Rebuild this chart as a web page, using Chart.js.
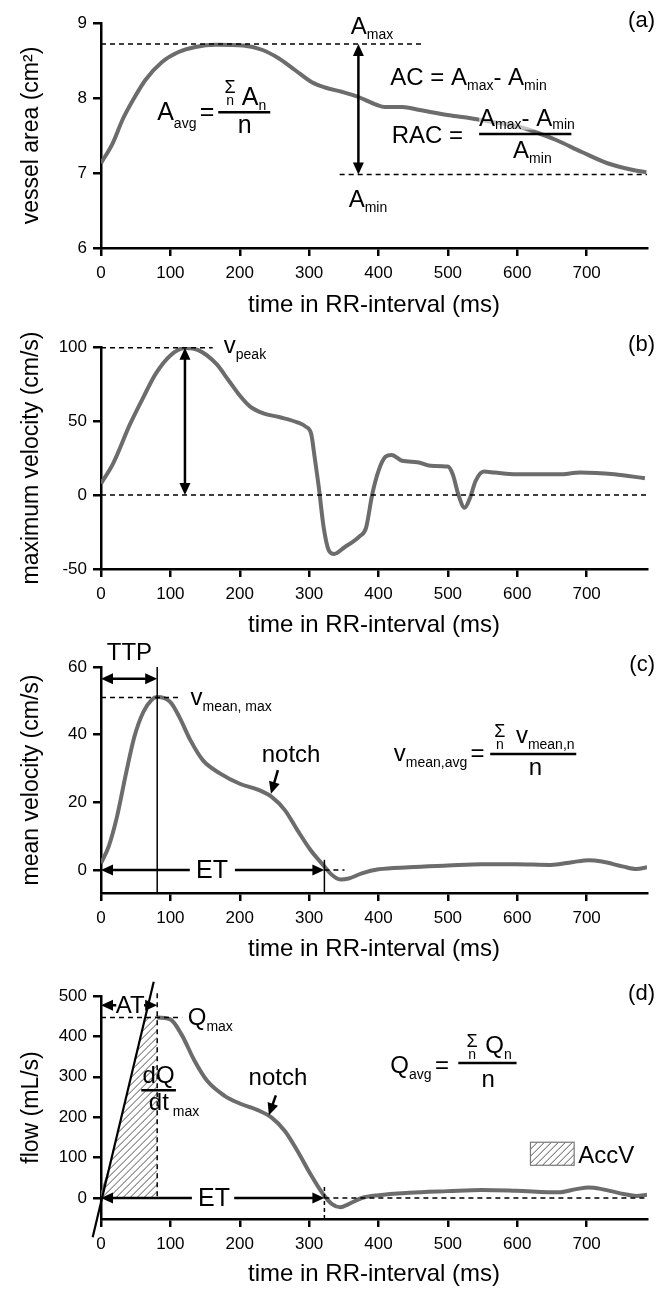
<!DOCTYPE html>
<html>
<head>
<meta charset="utf-8">
<script src="https://cdn.jsdelivr.net/npm/chart.js@4.4.1/dist/chart.umd.min.js"></script>
<style>
html,body{margin:0;padding:0;background:#fff;}
#wrap{position:relative;width:670px;height:1293px;}
canvas{position:absolute;left:0;}
</style>
</head>
<body>
<div id="wrap">
  <canvas id="cA" width="670" height="320" style="top:0px"></canvas>
  <canvas id="cB" width="670" height="330" style="top:315px"></canvas>
  <canvas id="cC" width="670" height="345" style="top:630px"></canvas>
  <canvas id="cD" width="670" height="333" style="top:960px"></canvas>
</div>
<script>
// data (time in ms)
var xTicks = [0,100,200,300,400,500,600,700];

var timeA = [0,17,31,46,64,88,111,136,165,205,233,256,280,304,323,348,372,397,409,434,459,502,533,564,601,631,656,693,730,767,786];
var areaA = [7.13,7.40,7.71,7.97,8.24,8.48,8.61,8.68,8.71,8.70,8.64,8.53,8.37,8.21,8.14,8.08,8.01,7.91,7.88,7.88,7.84,7.77,7.73,7.68,7.62,7.53,7.44,7.28,7.13,7.04,7.01];
var ticksA = [6,7,8,9];

var timeB = [0,17,42,61,79,100,121,141,166,184,200,215,234,258,283,295,303,308,314,321,329,336,351,373,382,391,400,410,419,434,456,475,500,507,515,524,532,540,552,567,598,660,691,740,784];
var velB = [7.7,20.8,48,66,82,94.3,99.3,97.7,88.7,77.4,67.2,59.7,55.2,52.5,49.1,46.2,41.2,25.3,5,-22,-38,-39.8,-35.3,-27.8,-22.2,0.5,16.3,25.8,27.1,23.1,22.2,19.7,19.2,14,0.5,-8.6,-1.8,9.5,15.8,15.2,14,14,15.2,14,11.3];
var ticksB = [-50,0,50,100];

var timeC = [0,11,23,36,48,61,73,81,100,113,129,147,172,200,228,246,265,283,302,320,333,345,357,376,400,444,500,549,598,648,679,703,722,753,772,787];
var velC = [2,6.9,15.7,28.5,39.3,46.7,50.3,51.1,49.6,45.2,38.3,32.4,28.5,25.5,23.6,21.6,17.7,11.8,5.9,1.5,-1.5,-2.8,-2.5,-1,0.2,0.8,1.3,1.7,1.7,1.5,2.3,2.9,2.5,1,0.3,0.8];
var ticksC = [0,20,40,60];

var timeD = [0,17,36,54,70,81,100,116,135,153,178,200,228,246,265,283,302,320,333,345,357,376,400,444,500,549,598,660,685,703,722,753,772,787];
var flowD = [0,92,216,331,413,447,442,405,339,290,253,234,216,199,166,117,59,10,-15,-23,-15,0,7,13,17,20,18,14,22,26,22,10,5,8];
var ticksD = [0,100,200,300,400,500];

var FONT = '"Liberation Sans", Arial, Helvetica, sans-serif';
var xTitle = 'time in RR-interval (ms)';

// ---- drawing helpers ----
function rich(ctx, x, y, parts, align){
  var w = 0;
  parts.forEach(function(p){ ctx.font = p[1] + 'px ' + FONT; w += ctx.measureText(p[0]).width; });
  var sx = align === 'center' ? x - w/2 : (align === 'right' ? x - w : x);
  ctx.textAlign = 'left'; ctx.textBaseline = 'alphabetic'; ctx.fillStyle = '#000';
  parts.forEach(function(p){
    ctx.font = p[1] + 'px ' + FONT;
    ctx.fillText(p[0], sx, y + (p[2] || 0));
    sx += ctx.measureText(p[0]).width;
  });
}
function mid(ctx, x, y, t, size){
  ctx.font = size + 'px ' + FONT; ctx.fillStyle = '#000';
  ctx.textAlign = 'center'; ctx.textBaseline = 'middle';
  ctx.fillText(t, x, y);
}
function seg(ctx, x1, y1, x2, y2, lw, dash){
  ctx.save();
  ctx.strokeStyle = '#000'; ctx.lineWidth = lw; ctx.setLineDash(dash || []);
  ctx.beginPath(); ctx.moveTo(x1, y1); ctx.lineTo(x2, y2); ctx.stroke();
  ctx.restore();
}
function head(ctx, x1, y1, x2, y2){
  var a = Math.atan2(y2 - y1, x2 - x1), L = 12, W = 5.5;
  ctx.fillStyle = '#000';
  ctx.beginPath(); ctx.moveTo(x2, y2);
  ctx.lineTo(x2 - L*Math.cos(a) + W*Math.sin(a), y2 - L*Math.sin(a) - W*Math.cos(a));
  ctx.lineTo(x2 - L*Math.cos(a) - W*Math.sin(a), y2 - L*Math.sin(a) + W*Math.cos(a));
  ctx.closePath(); ctx.fill();
}
function arrow(ctx, x1, y1, x2, y2, both, lw){
  var a = Math.atan2(y2 - y1, x2 - x1), s = 6;
  var sx = both ? x1 + s*Math.cos(a) : x1, sy = both ? y1 + s*Math.sin(a) : y1;
  seg(ctx, sx, sy, x2 - s*Math.cos(a), y2 - s*Math.sin(a), lw || 2.5);
  head(ctx, x1, y1, x2, y2);
  if (both) head(ctx, x2, y2, x1, y1);
}
function bar(ctx, x1, x2, y){ seg(ctx, x1, y, x2, y, 2.5); }
function hatch(ctx, pts, x0, x1, y0, y1){
  ctx.save();
  ctx.beginPath(); ctx.moveTo(pts[0][0], pts[0][1]);
  for (var i = 1; i < pts.length; i++) ctx.lineTo(pts[i][0], pts[i][1]);
  ctx.closePath();
  ctx.fillStyle = '#fff'; ctx.fill();
  ctx.clip();
  ctx.strokeStyle = '#555'; ctx.lineWidth = 1;
  ctx.beginPath();
  for (var k = x0 - (y1 - y0); k < x1 + (y1 - y0); k += 7){
    ctx.moveTo(k, y1); ctx.lineTo(k + (y1 - y0), y0);
  }
  ctx.stroke();
  ctx.restore();
}
function etArrow(ctx, X, Y, tx, gap0, gap1){
  arrow(ctx, X(0), Y(0), X(322), Y(0), true, 2.5);
  ctx.fillStyle = '#fff';
  ctx.fillRect(X(gap0), Y(0) - 4, X(gap1) - X(gap0), 8);
  mid(ctx, X(tx), Y(0) + 1, 'ET', 25);
}

// ---- chart factory ----
function makeChart(id, times, vals, yMin, yMax, yTicks, yTitle, padTop, axisH, titleRel, label, draw){
  var canvas = document.getElementById(id);
  var canvasH = canvas.height;
  return new Chart(canvas.getContext('2d'), {
    type: 'line',
    data: { datasets: [{
      data: times.map(function(t, i){ return {x: t, y: vals[i]}; }),
      borderColor: '#6c6c6c', borderWidth: 4, pointRadius: 0,
      cubicInterpolationMode: 'monotone', fill: false
    }]},
    options: {
      responsive: false, animation: false,
      layout: { padding: { top: padTop, right: 23, left: 0, bottom: 0 } },
      plugins: { legend: { display: false }, tooltip: { enabled: false } },
      scales: {
        x: {
          type: 'linear', min: 0, max: 787,
          afterBuildTicks: function(s){ s.ticks = xTicks.map(function(v){ return {value: v}; }); },
          afterFit: function(s){ s.height = axisH; },
          grid: { drawOnChartArea: false, drawTicks: true, tickLength: 8, lineWidth: 2.5, color: '#000', tickColor: '#000' },
          border: { color: '#000', width: 2.5 },
          ticks: { color: '#000', font: { family: FONT, size: 17 }, padding: 7, maxRotation: 0 },
          title: { display: true, text: xTitle, color: '#000', font: { family: FONT, size: 24 },
                   padding: { top: 0, bottom: Math.max(0, canvasH - titleRel - 14.4) } }
        },
        y: {
          min: yMin, max: yMax,
          afterBuildTicks: function(s){ s.ticks = yTicks.map(function(v){ return {value: v}; }); },
          afterFit: function(s){ s.width = 101; },
          grid: { drawOnChartArea: false, drawTicks: true, tickLength: 8, lineWidth: 2.5, color: '#000', tickColor: '#000' },
          border: { color: '#000', width: 2.5 },
          ticks: { color: '#000', font: { family: FONT, size: 17 }, padding: 6 },
          title: { display: true, text: yTitle, color: '#000', font: { family: FONT, size: 23 },
                   padding: { top: 18, bottom: 0 } }
        }
      }
    },
    plugins: [{
      id: 'notes' + id,
      afterDatasetsDraw: function(chart){
        var ctx = chart.ctx, xs = chart.scales.x, ys = chart.scales.y;
        var X = function(v){ return xs.getPixelForValue(v); };
        var Y = function(v){ return ys.getPixelForValue(v); };
        ctx.save();
        draw(ctx, X, Y, chart);
        ctx.font = '22px ' + FONT; ctx.fillStyle = '#000';
        ctx.textAlign = 'right'; ctx.textBaseline = 'middle';
        ctx.fillText(label, chart.chartArea.right + 8, chart.chartArea.top - 2);
        ctx.restore();
      }
    }]
  });
}

// (a) vessel area
makeChart('cA', timeA, areaA, 6, 9, ticksA, 'vessel area (cm\u00b2)', 23, 72, 305, '(a)', function(ctx, X, Y){
  seg(ctx, X(0), Y(8.72), X(467), Y(8.72), 1.5, [5, 4]);
  seg(ctx, X(344), Y(6.98), X(787), Y(6.98), 1.5, [5, 4]);
  arrow(ctx, X(371), Y(8.72), X(371), Y(6.98), true, 2.5);
  rich(ctx, X(360), Y(8.85), [['A', 24], ['max', 14, 5]]);
  rich(ctx, X(357), Y(6.55), [['A', 24], ['min', 14, 5]]);
  rich(ctx, X(417), Y(8.17), [['AC = A', 24], ['max', 14, 5], ['- A', 24], ['min', 14, 5]]);
  rich(ctx, X(419), Y(7.40), [['RAC = ', 24]]);
  ctx.fillStyle = 'rgba(255,255,255,0.6)';
  ctx.fillRect(X(545), Y(7.63) - 18, X(678) - X(545), 22);
  rich(ctx, X(545), Y(7.63), [['A', 24], ['max', 14, 3], ['- A', 24], ['min', 14, 3]]);
  bar(ctx, X(545), X(678), Y(7.52));
  rich(ctx, X(594), Y(7.20), [['A', 24], ['min', 14, 5]]);
  rich(ctx, X(81), Y(7.71), [['A', 25], ['avg', 14, 8], [' ', 12], ['=', 25]]);
  bar(ctx, X(169), X(244), Y(7.81));
  mid(ctx, X(186), Y(8.13), '\u03a3', 18);
  mid(ctx, X(186), Y(7.96), 'n', 14);
  rich(ctx, X(203), Y(7.91), [['A', 25], ['n', 14, 5]]);
  rich(ctx, X(207), Y(7.53), [['n', 25]], 'center');
});

// (b) maximum velocity
makeChart('cB', timeB, velB, -50, 100, ticksB, 'maximum velocity (cm/s)', 32, 76, 310, '(b)', function(ctx, X, Y){
  seg(ctx, X(0), Y(99.5), X(161), Y(99.5), 1.5, [5, 4]);
  seg(ctx, X(0), Y(0), X(787), Y(0), 1.5, [5, 4]);
  arrow(ctx, X(121), Y(99.5), X(121), Y(0), true, 2.5);
  rich(ctx, X(177), Y(96), [['v', 24], ['peak', 14, 6]]);
});

// (c) mean velocity
makeChart('cC', timeC, velC, -6.8, 60, ticksC, 'mean velocity (cm/s)', 37, 82, 319, '(c)', function(ctx, X, Y){
  seg(ctx, X(81), Y(60), X(81), Y(-6.8), 1.5);
  arrow(ctx, X(0), Y(56.5), X(81), Y(56.5), true, 2.5);
  rich(ctx, X(41), Y(62), [['TTP', 24]], 'center');
  seg(ctx, X(0), Y(51), X(115), Y(51), 1.5, [5, 4]);
  rich(ctx, X(129), Y(48.8), [['v', 24], ['mean, max', 14, 6]]);
  rich(ctx, X(274), Y(32), [['notch', 24]], 'center');
  arrow(ctx, X(255), Y(29.5), X(245), Y(22.5), false, 2.5);
  etArrow(ctx, X, Y, 160, 128, 193);
  seg(ctx, X(322), Y(3), X(322), Y(-6.8), 1.5);
  seg(ctx, X(322), Y(0), X(351), Y(0), 1.5, [5, 4]);
  rich(ctx, X(422), Y(32.3), [['v', 24], ['mean,avg', 14, 6], [' ', 12], ['=', 24]]);
  bar(ctx, X(561), X(685), Y(34.3));
  mid(ctx, X(575), Y(40.9), '\u03a3', 18);
  mid(ctx, X(575), Y(37), 'n', 14);
  rich(ctx, X(598), Y(37.5), [['v', 24], ['mean,n', 14, 6]]);
  rich(ctx, X(626), Y(28), [['n', 24]], 'center');
});

// (d) flow
makeChart('cD', timeD, flowD, -52, 500, ticksD, 'flow (mL/s)', 36, 74, 314, '(d)', function(ctx, X, Y){
  var slope = (535 + 97) / (76 + 12), x0 = -12 + 97 / slope;
  var xTop = x0 + 449 / slope;
  hatch(ctx, [[X(x0), Y(0)], [X(xTop), Y(449)], [X(81), Y(449)], [X(81), Y(0)]], X(0), X(81), Y(449), Y(0));
  seg(ctx, X(81), Y(507), X(81), Y(0), 1.5, [5, 4]);
  seg(ctx, X(0), Y(447), X(117), Y(447), 1.5, [5, 4]);
  arrow(ctx, X(0), Y(477), X(81), Y(477), true, 2.5);
  ctx.fillStyle = '#fff';
  ctx.fillRect(X(22), Y(477) - 9, X(62) - X(22), 18);
  rich(ctx, X(42), Y(458), [['AT', 24]], 'center');
  seg(ctx, X(-12), Y(-97), X(76), Y(535), 2.2);
  rich(ctx, X(125), Y(428), [['Q', 24], ['max', 14, 6]]);
  ctx.fillStyle = '#fff';
  rich(ctx, X(83), Y(284), [['dQ', 24]], 'center');
  bar(ctx, X(58), X(108), Y(267));
  rich(ctx, X(69), Y(217), [['dt', 24], [' max', 14, 6]]);
  rich(ctx, X(255), Y(279), [['notch', 24]], 'center');
  arrow(ctx, X(252), Y(254), X(242), Y(205), false, 2.5);
  etArrow(ctx, X, Y, 163, 131, 192);
  seg(ctx, X(322), Y(27), X(322), Y(-57), 1.5, [4, 3]);
  seg(ctx, X(322), Y(0), X(787), Y(0), 1.5, [5, 4]);
  rich(ctx, X(417), Y(309), [['Q', 24], ['avg', 14, 6], [' ', 12], ['=', 24]]);
  bar(ctx, X(515), X(599), Y(334));
  mid(ctx, X(535), Y(386), '\u03a3', 18);
  mid(ctx, X(535), Y(354), 'n', 14);
  rich(ctx, X(554), Y(359), [['Q', 24], ['n', 14, 6]]);
  rich(ctx, X(558), Y(274), [['n', 24]], 'center');
  var bx0 = X(619), bx1 = X(682), by0 = Y(138), by1 = Y(81);
  hatch(ctx, [[bx0, by0], [bx1, by0], [bx1, by1], [bx0, by1]], bx0, bx1, by0, by1);
  ctx.strokeStyle = '#777'; ctx.lineWidth = 1.2; ctx.strokeRect(bx0, by0, bx1 - bx0, by1 - by0);
  rich(ctx, X(688), Y(86), [['AccV', 24]]);
});
</script>
</body>
</html>
